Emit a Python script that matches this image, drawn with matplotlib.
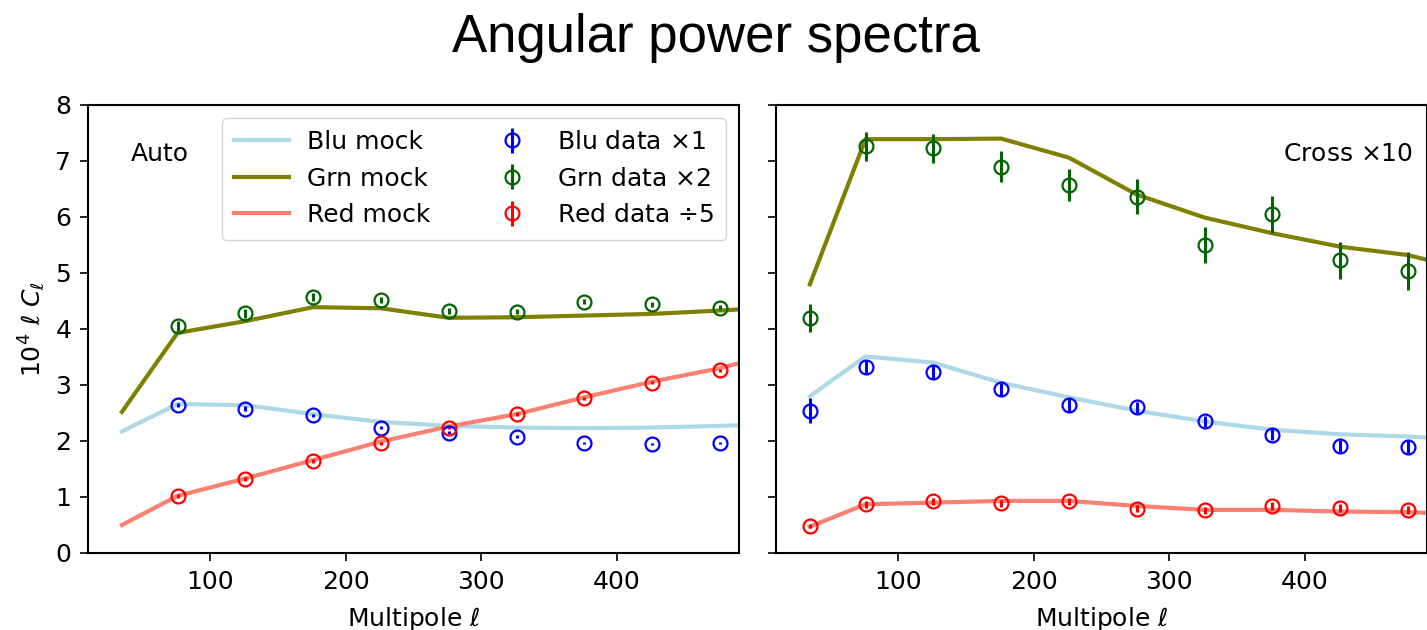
import numpy as np
import matplotlib
matplotlib.use("Agg")
import matplotlib.pyplot as plt

# multipole bin centres (last mock point sits just past the plotted range)
ell_mock = [35, 76, 126, 176, 226, 276, 326, 376, 426, 476, 526]
ell_auto = [76, 126, 176, 226, 276, 326, 376, 426, 476]
ell_cross = [35, 76, 126, 176, 226, 276, 326, 376, 426, 476]

# auto spectra, 10^4 l C_l
auto_blu_mock = [2.17, 2.66, 2.64, 2.48, 2.34, 2.27, 2.24, 2.23, 2.24, 2.27, 2.31]
auto_grn_mock = [2.52, 3.93, 4.14, 4.39, 4.37, 4.20, 4.21, 4.24, 4.27, 4.33, 4.40]
auto_red_mock = [0.50, 1.02, 1.33, 1.66, 1.99, 2.26, 2.48, 2.78, 3.06, 3.30, 3.62]

auto_blu = [2.64, 2.58, 2.46, 2.24, 2.15, 2.08, 1.97, 1.95, 1.96]
auto_blu_err = [0.04, 0.04, 0.03, 0.03, 0.03, 0.02, 0.02, 0.02, 0.02]
auto_grn = [4.05, 4.28, 4.57, 4.52, 4.32, 4.31, 4.49, 4.44, 4.38]
auto_grn_err = [0.09, 0.08, 0.07, 0.06, 0.05, 0.05, 0.05, 0.04, 0.04]
auto_red = [1.02, 1.32, 1.64, 1.96, 2.24, 2.48, 2.76, 3.04, 3.26]
auto_red_err = [0.03, 0.03, 0.03, 0.03, 0.03, 0.03, 0.03, 0.03, 0.03]

# cross spectra (x10)
cross_blu_mock = [2.80, 3.51, 3.40, 3.04, 2.78, 2.54, 2.35, 2.20, 2.12, 2.08, 2.01]
cross_grn_mock = [4.80, 7.39, 7.39, 7.40, 7.06, 6.40, 5.99, 5.71, 5.47, 5.32, 5.02]
cross_red_mock = [0.47, 0.87, 0.90, 0.93, 0.93, 0.84, 0.77, 0.77, 0.74, 0.73, 0.68]

cross_blu = [2.54, 3.32, 3.23, 2.92, 2.64, 2.60, 2.35, 2.11, 1.91, 1.90]
cross_blu_err = [0.22, 0.13, 0.13, 0.12, 0.12, 0.10, 0.10, 0.10, 0.11, 0.12]
cross_grn = [4.20, 7.26, 7.23, 6.90, 6.57, 6.36, 5.50, 6.05, 5.23, 5.04]
cross_grn_err = [0.25, 0.26, 0.26, 0.27, 0.29, 0.31, 0.33, 0.33, 0.33, 0.34]
cross_red = [0.48, 0.87, 0.92, 0.89, 0.92, 0.79, 0.76, 0.84, 0.81, 0.77]
cross_red_err = [0.04, 0.06, 0.06, 0.06, 0.06, 0.06, 0.06, 0.07, 0.07, 0.07]

plt.rcParams.update({"font.size": 18,
                     "axes.linewidth": 1.5,
                     "xtick.major.size": 6, "ytick.major.size": 6,
                     "xtick.major.width": 1.2, "ytick.major.width": 1.2,
                     "xtick.major.pad": 6, "ytick.major.pad": 6})

fig = plt.figure(figsize=(14.27, 6.30), dpi=100)
ax1 = fig.add_axes([88 / 1427, 77 / 630, 651 / 1427, 448 / 630])
ax2 = fig.add_axes([776 / 1427, 77 / 630, 651 / 1427, 448 / 630], sharey=ax1)

ebkw = dict(fmt="o", mfc="none", ms=10, mew=1.6, elinewidth=2.2, capsize=0)


def draw_panel(ax, ell_data, mocks, data):
    for y, c, lab in mocks:
        ax.plot(ell_mock, y, color=c, lw=3, label=lab)
    for y, e, c, lab in data:
        ax.errorbar(ell_data, y, yerr=e, color=c, label=lab, **ebkw)
    ax.set_xlim(10, 490)
    ax.set_xticks([100, 200, 300, 400])
    ax.set_xlabel(r"Multipole $\ell$", labelpad=8)


mock_labels = ["Blu mock", "Grn mock", "Red mock"]
data_labels = [r"Blu data $\times 1$", r"Grn data $\times 2$", r"Red data $\div 5$"]
mock_colors = ["lightblue", "olive", "salmon"]
data_colors = ["blue", "darkgreen", "red"]

draw_panel(ax1, ell_auto,
           list(zip([auto_blu_mock, auto_grn_mock, auto_red_mock], mock_colors, mock_labels)),
           list(zip([auto_blu, auto_grn, auto_red],
                    [auto_blu_err, auto_grn_err, auto_red_err], data_colors, data_labels)))
draw_panel(ax2, ell_cross,
           list(zip([cross_blu_mock, cross_grn_mock, cross_red_mock], mock_colors, mock_labels)),
           list(zip([cross_blu, cross_grn, cross_red],
                    [cross_blu_err, cross_grn_err, cross_red_err], data_colors, data_labels)))

ax1.set_ylim(0, 8)
ax1.set_ylabel(r"$10^4\ \ell\ C_\ell$", labelpad=6)
ax2.tick_params(labelleft=False)

ax1.text(0.065, 0.89, "Auto", transform=ax1.transAxes, va="center", ha="left")
ax2.text(0.978, 0.89, r"Cross $\times 10$", transform=ax2.transAxes, va="center", ha="right")

ax1.legend(ncol=2, loc="upper right", fontsize=18, columnspacing=2.15,
           handlelength=2.2, handletextpad=0.7, borderpad=0.5)

fig.text(0.502, 0.940, "Angular power spectra", ha="center", va="center",
         fontsize=38, family=["Liberation Sans", "DejaVu Sans"])

fig.savefig("out.png", dpi=100)
